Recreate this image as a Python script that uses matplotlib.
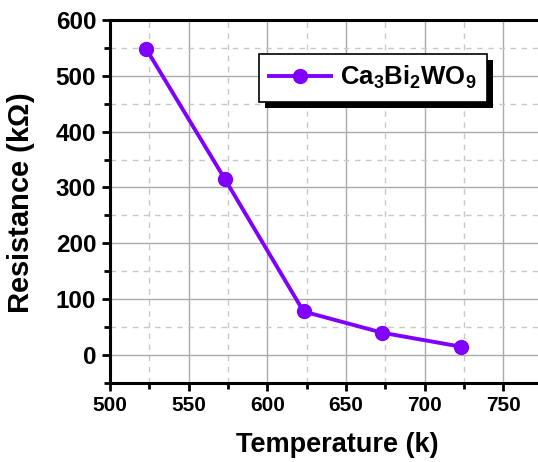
import numpy as np
import matplotlib
matplotlib.use('Agg')
import matplotlib.pyplot as plt
from matplotlib.ticker import MultipleLocator
from matplotlib.patches import Rectangle

# temperature vs resistance data
temperature = [523, 573, 623, 673, 723]
resistance = [548, 315, 78, 40, 15]
xticks = [500, 550, 600, 650, 700, 750]
yticks = [0, 100, 200, 300, 400, 500, 600]

plt.rcParams['font.family'] = 'Liberation Sans'
plt.rcParams['font.weight'] = 'bold'
plt.rcParams['mathtext.fontset'] = 'custom'
plt.rcParams['mathtext.rm'] = 'Liberation Sans:bold'
plt.rcParams['mathtext.bf'] = 'Liberation Sans:bold'
plt.rcParams['mathtext.default'] = 'bf'

fig = plt.figure(figsize=(5.38, 4.62), dpi=100)
ax = fig.add_axes([0.2045, 0.171, 0.7955, 0.786])

ax.plot(temperature, resistance, color='#8000ff', lw=2.8, marker='o', ms=10,
        label=r'Ca$_3$Bi$_2$WO$_9$', zorder=3)

ax.set_xlim(500, 772)
ax.set_ylim(-50, 600)
ax.xaxis.set_minor_locator(MultipleLocator(25))
ax.yaxis.set_minor_locator(MultipleLocator(50))
ax.set_xticks(xticks)
ax.set_xticklabels([str(v) for v in xticks], fontsize=15, fontweight='bold')
ax.set_yticks(yticks)
ax.set_yticklabels([str(v) for v in yticks], fontsize=17.5, fontweight='bold')

ax.grid(which='major', color='#aaaaaa', lw=1, ls='-')
ax.grid(which='minor', color='#c8c8c8', lw=1, ls=(0, (4, 4)))
ax.set_axisbelow(True)

for s in ['left', 'bottom', 'top']:
    ax.spines[s].set_linewidth(2.2)
ax.spines['right'].set_visible(False)
ax.tick_params(which='both', direction='out', width=2, top=False)
ax.tick_params(which='major', length=5.5)
ax.tick_params(which='minor', length=4)
ax.tick_params(axis='x', pad=4)
ax.tick_params(axis='y', pad=4.5)

ax.set_xlabel('Temperature (k)', fontsize=19.5, fontweight='bold')
ax.xaxis.set_label_coords(0.53, -0.135)
ax.set_ylabel(r'Resistance (k$\Omega$)', fontsize=21, fontweight='bold')
ax.yaxis.set_label_coords(-0.17, 0.495)

leg = ax.legend(loc='upper left', bbox_to_anchor=(0.318, 0.942), fontsize=18.5,
                fancybox=False, edgecolor='black', framealpha=1,
                handlelength=2.4, borderpad=0.4, handletextpad=0.35)
leg.get_frame().set_linewidth(1.2)
leg.set_zorder(6)

# solid black drop shadow behind the legend box
fig.canvas.draw()
bb = leg.get_frame().get_window_extent()
ax.add_patch(Rectangle((bb.x0 + 6, bb.y0 - 6), bb.width, bb.height,
                       transform=None, facecolor='black', edgecolor='none',
                       zorder=5.5, clip_on=False))

plt.savefig('out.png', dpi=100)
